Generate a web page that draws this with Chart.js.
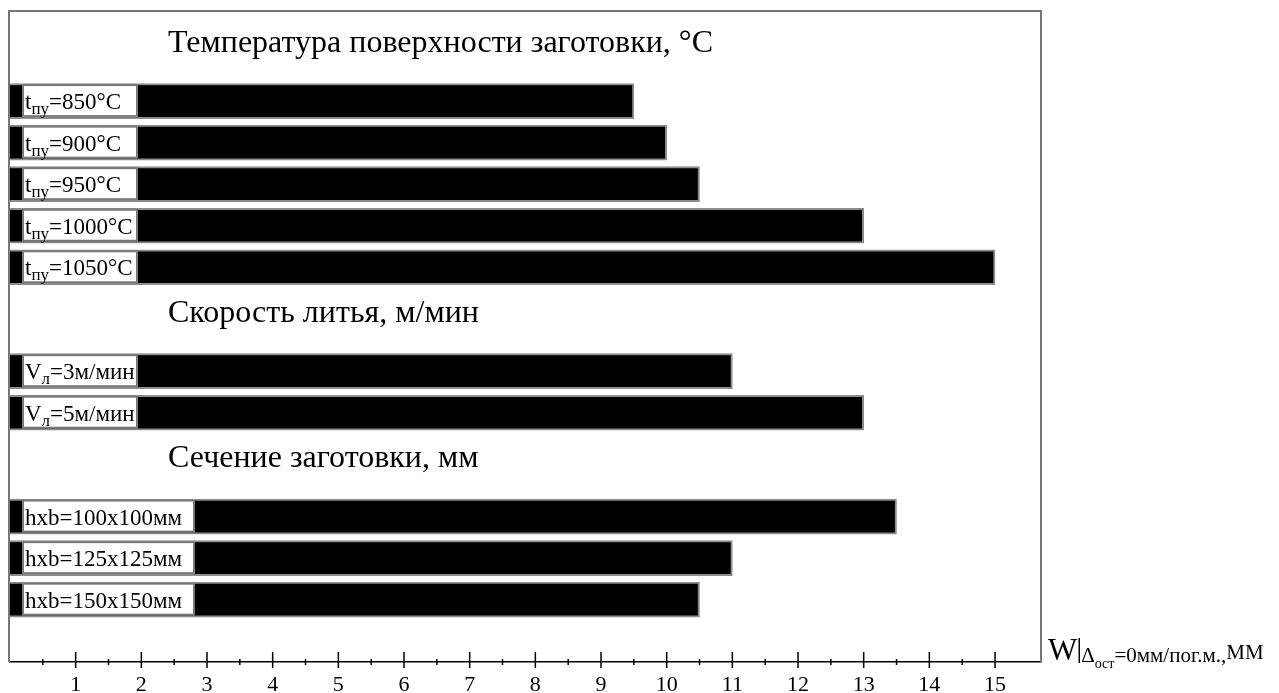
<!DOCTYPE html>
<html>
<head>
<meta charset="utf-8">
<script src="https://cdn.jsdelivr.net/npm/chart.js@4.4.1/dist/chart.umd.min.js"></script>
<style>
  html, body { margin: 0; padding: 0; background: #fff; }
  #wrap { width: 1279px; height: 693px; }
</style>
</head>
<body>
<div id="wrap"><canvas id="chart" width="1279" height="693"></canvas></div>
<script>
// W при Δост = 0 мм/пог.м. по группам факторов
const groupTitles = ['Температура поверхности заготовки, °C', 'Скорость литья, м/мин', 'Сечение заготовки, мм'];
const tempLabels = ['850', '900', '950', '1000', '1050'];
const tempValues = [9.5, 10, 10.5, 13, 15];
const speedLabels = ['3', '5'];
const speedValues = [11, 13];
const sectionLabels = ['100x100', '125x125', '150x150'];
const sectionValues = [13.5, 11, 10.5];
const majorTicks = [1, 2, 3, 4, 5, 6, 7, 8, 9, 10, 11, 12, 13, 14, 15];
const minorTicks = [0.5, 1.5, 2.5, 3.5, 4.5, 5.5, 6.5, 7.5, 8.5, 9.5, 10.5, 11.5, 12.5, 13.5, 14.5];

const SERIF = '"Liberation Serif", "DejaVu Serif", serif';

const groups = [
  { title: groupTitles[0], main: 't', sub: 'пу', post: '°C', labels: tempLabels, values: tempValues, box: 114 },
  { title: groupTitles[1], main: 'V', sub: 'л', post: 'м/мин', labels: speedLabels, values: speedValues, box: 114 },
  { title: groupTitles[2], main: 'hxb', sub: '', post: 'мм', labels: sectionLabels, values: sectionValues, box: 171 }
];

// строки категориальной оси: бары через одну, пустые строки под заголовки групп
const rows = [null, null, null, null];
const firstRow = [];
groups.forEach((g, gi) => {
  firstRow.push(rows.length);
  g.labels.forEach((l, i) => {
    if (i > 0) rows.push(null);
    rows.push({ group: gi, text: l, value: g.values[i] });
  });
  const tail = gi < groups.length - 1 ? 4 : 3;
  for (let k = 0; k < tail; k++) rows.push(null);
});

function drawRich(ctx, x, y, parts) {
  parts.forEach(p => {
    ctx.font = p.size + 'px ' + SERIF;
    ctx.fillText(p.t, x, y + (p.dy || 0));
    x += ctx.measureText(p.t).width;
  });
  return x;
}

const decorPlugin = {
  id: 'decor',
  afterDatasetsDraw(chart) {
    const ctx = chart.ctx;
    const a = chart.chartArea;
    const meta = chart.getDatasetMeta(0);
    ctx.save();

    // рамка поля
    ctx.strokeStyle = '#777';
    ctx.lineWidth = 2;
    ctx.beginPath();
    ctx.moveTo(a.left - 1, a.bottom);
    ctx.lineTo(a.left - 1, a.top - 7);
    ctx.lineTo(a.right, a.top - 7);
    ctx.lineTo(a.right, a.bottom);
    ctx.stroke();

    // подписи внутри баров
    ctx.textBaseline = 'alphabetic';
    rows.forEach((r, i) => {
      if (!r) return;
      const bar = meta.data[i];
      const g = groups[r.group];
      const bx = a.left + 13;
      const top = bar.y - 16;
      ctx.fillStyle = '#fff';
      ctx.fillRect(bx, top, g.box, 31);
      ctx.strokeStyle = '#7a7a7a';
      ctx.lineWidth = 2;
      ctx.strokeRect(bx, top, g.box, 31);
      ctx.fillStyle = '#000';
      const parts = [{ t: g.main, size: 23 }];
      if (g.sub) parts.push({ t: g.sub, size: 17, dy: 5 });
      parts.push({ t: '=' + r.text + g.post, size: 23 });
      drawRich(ctx, bx + 2, bar.y + 8, parts);
    });

    // заголовки групп
    ctx.font = '32px ' + SERIF;
    ctx.textBaseline = 'middle';
    groups.forEach((g, gi) => {
      const first = meta.data[firstRow[gi]];
      const y = first.y - first.height / 2 - 40;
      ctx.fillText(g.title, a.left + 158, y);
    });

    // засечки оси X поперёк линии
    const xs = chart.scales.x;
    ctx.strokeStyle = '#000';
    ctx.lineWidth = 1.5;
    ctx.beginPath();
    majorTicks.forEach(v => {
      const px = xs.getPixelForValue(v);
      ctx.moveTo(px, a.bottom - 10);
      ctx.lineTo(px, a.bottom + 6);
    });
    minorTicks.forEach(v => {
      const px = xs.getPixelForValue(v);
      ctx.moveTo(px, a.bottom - 3);
      ctx.lineTo(px, a.bottom + 3);
    });
    ctx.stroke();

    // подпись оси X
    const tx = a.right + 7;
    const base = a.bottom - 2;
    ctx.textBaseline = 'alphabetic';
    let x = drawRich(ctx, tx, base, [{ t: 'W', size: 31 }]);
    ctx.lineWidth = 1.5;
    ctx.beginPath();
    ctx.moveTo(x + 2, base - 22);
    ctx.lineTo(x + 2, base + 3);
    ctx.stroke();
    x = drawRich(ctx, x + 4, base + 2, [
      { t: 'Δ', size: 21 },
      { t: 'ост', size: 14, dy: 6 },
      { t: '=0мм/пог.м.,', size: 21 }
    ]);
    drawRich(ctx, x, base - 1, [{ t: 'ММ', size: 21 }]);

    ctx.restore();
  }
};

new Chart(document.getElementById('chart'), {
  type: 'bar',
  data: {
    labels: rows.map(r => (r ? r.text : '')),
    datasets: [{
      data: rows.map(r => (r ? r.value : null)),
      backgroundColor: '#000',
      borderColor: '#8c8c8c',
      borderWidth: 2,
      barThickness: 35
    }]
  },
  options: {
    indexAxis: 'y',
    responsive: false,
    animation: false,
    devicePixelRatio: 1,
    layout: { padding: { left: 10, top: 18, right: 238, bottom: 0 } },
    plugins: { legend: { display: false }, tooltip: { enabled: false } },
    scales: {
      y: { display: false, offset: false },
      x: {
        type: 'linear',
        min: 0,
        max: 15.7,
        afterBuildTicks: s => { s.ticks = majorTicks.map(v => ({ value: v })); },
        afterFit: s => { s.height = 31; },
        grid: { display: false },
        border: { display: true, color: '#000', width: 1.5 },
        ticks: {
          autoSkip: false,
          maxRotation: 0,
          padding: 2,
          color: '#000',
          font: { family: SERIF, size: 22 },
          callback: v => String(v)
        }
      }
    }
  },
  plugins: [decorPlugin]
});
</script>
</body>
</html>
